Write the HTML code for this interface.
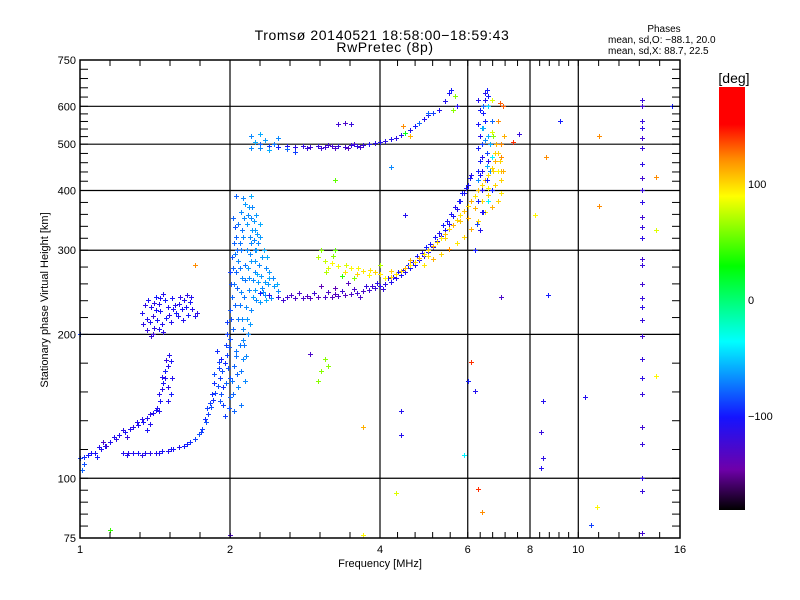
<!DOCTYPE html>
<html><head><meta charset="utf-8">
<style>
html,body{margin:0;padding:0;background:#fff;}
svg{display:block;font-family:"Liberation Sans",sans-serif;}
</style></head>
<body>
<svg id="chart" width="800" height="600" viewBox="0 0 800 600" xmlns="http://www.w3.org/2000/svg">
<rect x="0" y="0" width="800" height="600" fill="#fff"/>
<text x="382" y="40" font-size="14" text-anchor="middle" letter-spacing="0.6">Tromsø 20140521  18:58:00−18:59:43</text>
<text x="385" y="52" font-size="14" text-anchor="middle" letter-spacing="0.6">RwPretec (8p)</text>
<text x="664" y="32" font-size="10" text-anchor="middle">Phases</text>
<text x="608" y="43" font-size="10">mean, sd,O: −88.1, 20.0</text>
<text x="608" y="54" font-size="10">mean, sd,X:  88.7, 22.5</text>
<g id="grid"></g>
<g id="marks"></g>
<g id="axes"></g>
<text x="380" y="567" font-size="11" text-anchor="middle">Frequency [MHz]</text>
<text x="0" y="0" font-size="11" text-anchor="middle" transform="translate(48,300) rotate(-90)">Stationary phase Virtual Height [km]</text>
<defs><linearGradient id="cbg" x1="0" y1="0" x2="0" y2="1"></linearGradient></defs>
<rect x="719" y="87" width="26" height="423" fill="url(#cbg)"/>
<text x="734" y="83" font-size="14" text-anchor="middle">[deg]</text>
<text x="748" y="188" font-size="11">100</text>
<text x="748" y="304" font-size="11">0</text>
<text x="748" y="420" font-size="11">−100</text>
</svg>
<script>
// ---- data: [frequency MHz, virtual height km, phase deg] ----
const lowTraceA=[[1.0,110,-90],[1.02,111,-95],[1.04,112,-100],[1.07,113,-105],[1.1,115,-110],[1.12,117,-105],[1.15,119,-110],[1.18,121,-115],[1.2,123,-110],[1.23,125,-105],[1.26,127,-110],[1.28,128,-115],[1.31,129,-110],[1.34,131,-105],[1.36,134,-110],[1.38,136,-115],[1.40,137,-110],[1.42,139,-105],[1.44,138,-110],[1.01,104,-80],[1.02,107,-85],[1.11,119,-130],[1.13,117,-125],[1.05,113,-105],[1.09,116,-110],[1.17,122,-110],[1.22,126,-115],[1.3,131,-110],[1.33,133,-115],[1.24,122,-120],[1.08,111,-100]];
const lowTraceB=[[1.22,113,-110],[1.25,113,-115],[1.28,113,-110],[1.31,113,-105],[1.35,113,-110],[1.38,113,-115],[1.42,113,-110],[1.46,114,-105],[1.5,114,-110],[1.54,115,-105],[1.58,116,-110],[1.62,117,-100],[1.66,119,-95],[1.7,121,-90],[1.73,124,-85],[1.76,127,-90],[1.79,131,-85],[1.81,136,-90],[1.83,141,-85],[1.85,146,-95],[1.87,151,-90],[1.89,156,-85],[1.91,162,-90],[1.93,168,-85],[1.95,174,-95],[1.97,181,-90],[1.99,188,-85],[1.24,112,-110],[1.33,112,-115],[1.44,113,-110],[1.52,115,-105],[1.64,118,-100],[1.75,125,-90],[1.78,133,-95],[1.82,144,-90],[1.86,158,-95],[1.9,170,-90],[1.94,155,-95],[1.92,178,-100]];
const branchC=[[1.43,140,-110],[1.45,145,-105],[1.44,150,-110],[1.46,154,-115],[1.47,158,-105],[1.46,163,-110],[1.48,168,-100],[1.5,172,-110],[1.49,177,-120],[1.51,181,-110],[1.52,176,-105],[1.53,162,-110],[1.52,150,-100],[1.5,145,-110],[1.38,130,-110],[1.36,126,-105],[1.48,162,-110],[1.5,155,-115]];
const cloudD=[[1.33,222,-110],[1.35,230,-115],[1.37,236,-105],[1.39,228,-110],[1.4,218,-120],[1.42,240,-100],[1.44,232,-110],[1.45,224,-105],[1.47,243,-110],[1.48,236,-100],[1.5,228,-110],[1.51,220,-115],[1.53,238,-105],[1.55,230,-110],[1.56,222,-100],[1.58,232,-110],[1.6,226,-105],[1.62,236,-110],[1.64,242,-115],[1.66,234,-105],[1.68,226,-110],[1.34,210,-115],[1.36,204,-120],[1.38,212,-110],[1.41,206,-115],[1.43,214,-105],[1.46,210,-110],[1.49,216,-100],[1.52,212,-110],[1.57,218,-105],[1.61,214,-110],[1.65,220,-100],[1.7,218,-110],[1.72,222,-115],[1.4,200,-125],[1.44,205,-110],[1.39,198,-120],[1.47,202,-115],[1.36,215,-110],[1.42,225,-105],[1.54,226,-110],[1.59,240,-115],[1.63,228,-105],[1.67,240,-110],[1.45,238,-110],[1.41,233,-115]];
const cloudE=[[1.8,140,-90],[1.84,150,-95],[1.86,165,-85],[1.9,175,-90],[1.88,185,-95],[1.92,150,-85],[1.94,142,-90],[1.96,158,-80],[1.98,170,-85],[2.0,148,-80],[2.02,160,-75],[2.04,172,-80],[2.06,185,-75],[2.08,155,-70],[2.1,168,-75],[2.12,178,-70],[2.0,196,-85],[2.03,205,-80],[1.97,212,-90],[2.0,225,-85],[2.02,240,-80],[2.04,255,-75],[2.06,270,-80],[2.08,285,-70],[2.1,300,-75],[2.12,320,-70],[2.08,340,-75],[2.1,360,-70],[2.14,375,-65],[2.06,390,-80],[2.12,385,-70],[2.18,370,-65],[2.2,350,-70],[2.24,330,-65],[2.28,310,-70],[2.32,290,-65],[2.36,275,-70],[2.4,262,-60],[2.45,252,-65],[2.5,246,-70],[2.16,300,-70],[2.2,285,-65],[2.24,270,-70],[2.28,258,-65],[2.32,250,-70],[2.14,260,-75],[2.18,248,-70],[2.22,240,-65],[2.26,236,-70],[2.3,234,-65],[2.36,236,-60],[2.42,238,-70],[2.05,230,-80],[2.08,215,-75],[2.12,205,-70],[2.16,215,-65],[2.2,225,-70],[2.06,320,-80],[2.16,340,-65],[2.2,310,-70],[2.26,300,-60],[2.3,320,-65],[2.34,300,-60],[2.14,280,-75],[2.1,245,-70],[2.02,290,-85],[2.04,310,-80],[2.0,270,-90],[2.26,355,-65],[2.3,340,-60],[2.22,260,-70],[2.38,255,-65],[2.12,195,-70],[2.06,180,-75],[2.14,160,-70],[2.0,162,-85],[1.96,190,-90],[2.1,142,-75],[2.04,138,-80]];
const cloudE2=[[2.03,350,-80],[2.05,335,-85],[2.07,300,-80],[2.09,275,-75],[2.11,262,-70],[2.13,240,-75],[2.15,228,-70],[2.17,275,-65],[2.19,295,-70],[2.21,330,-65],[2.23,315,-70],[2.25,285,-65],[2.27,268,-60],[2.29,280,-70],[2.31,265,-65],[2.33,245,-70],[2.35,258,-65],[2.37,290,-60],[2.39,270,-65],[2.44,262,-70],[2.48,255,-60],[2.01,255,-85],[2.03,275,-80],[2.05,295,-75],[2.07,250,-80],[2.09,230,-75],[2.11,215,-70],[2.13,190,-75],[2.15,180,-70],[2.17,200,-70],[2.19,210,-65],[2.09,190,-75],[2.07,165,-80],[2.03,150,-80],[1.99,140,-85],[1.95,135,-90],[1.91,145,-85],[1.97,200,-90],[2.01,215,-85],[2.13,350,-70],[2.17,355,-70],[2.21,370,-70],[2.11,330,-75],[2.09,310,-75],[2.19,320,-70],[2.23,345,-65],[2.27,325,-65],[2.25,248,-65],[2.35,242,-70],[2.18,262,-70],[2.24,300,-70]];
const traceF=[[2.3,244,-100],[2.4,242,-110],[2.5,240,-120],[2.6,239,-125],[2.7,238,-130],[2.8,238,-130],[2.9,238,-135],[3.0,239,-135],[3.1,239,-130],[3.2,240,-135],[3.3,241,-130],[3.4,242,-135],[3.5,243,-130],[3.6,244,-125],[3.7,246,-130],[3.8,248,-125],[3.9,250,-120],[4.0,252,-115],[4.1,255,-115],[4.2,258,-110],[4.3,262,-110],[4.4,266,-105],[4.5,270,-110],[4.6,275,-105],[4.7,280,-110],[4.8,286,-105],[4.9,292,-110],[5.0,298,-105],[5.1,305,-110],[5.2,313,-105],[5.3,321,-110],[5.4,331,-105],[5.5,341,-110],[5.6,353,-105],[5.7,366,-110],[5.8,380,-105],[5.9,395,-110],[6.0,410,-105],[6.1,430,-110],[2.75,244,-130],[2.95,244,-125],[3.15,245,-130],[3.35,247,-125],[3.55,249,-130],[3.75,252,-120],[3.95,256,-115],[4.15,262,-110],[4.35,270,-105],[4.55,280,-100],[4.75,292,-105],[4.95,305,-100],[5.15,320,-105],[5.35,338,-100],[5.55,358,-105],[5.75,380,-100],[5.95,405,-105],[3.05,252,-140],[3.45,256,-135],[3.25,250,-140],[2.55,236,-125],[2.65,242,-130],[2.85,241,-135],[3.25,243,-135],[3.65,240,-130],[3.85,252,-125],[4.05,249,-120],[4.25,264,-110],[4.45,273,-110],[4.65,283,-105],[4.85,296,-110],[5.05,309,-105],[5.25,326,-110],[5.45,345,-105],[5.65,370,-110],[5.85,395,-100],[6.05,425,-105]];
const traceX=[[3.0,290,70],[3.05,300,60],[3.1,285,75],[3.15,275,80],[3.2,282,90],[3.3,278,85],[3.4,270,95],[3.5,275,90],[3.6,268,100],[3.7,272,95],[3.8,266,90],[3.9,270,100],[4.0,268,95],[4.1,262,90],[4.2,264,100],[4.3,268,95],[4.4,271,100],[4.5,275,110],[4.6,279,95],[4.7,284,100],[4.8,289,110],[4.9,294,95],[5.0,300,100],[5.1,306,110],[5.2,312,100],[5.3,318,95],[5.4,325,105],[5.5,332,100],[5.6,339,110],[5.7,347,100],[5.8,355,95],[5.9,363,105],[6.0,372,100],[6.1,380,110],[6.2,390,95],[6.3,400,105],[6.4,410,100],[6.5,420,110],[6.6,430,95],[6.7,445,100],[6.8,460,110],[6.9,480,100],[7.0,395,95],[6.9,380,100],[6.7,370,110],[6.5,360,95],[6.3,345,100],[6.1,333,110],[5.9,320,100],[5.7,310,95],[5.5,302,120],[5.3,295,100],[5.1,287,110],[4.9,280,95],[3.35,265,40],[3.55,262,60],[3.25,300,50],[4.0,280,70],[3.12,270,70],[3.22,292,60],[3.42,280,80],[3.62,276,90],[3.82,273,95],[4.2,272,100],[4.6,286,110],[5.0,292,95],[5.4,318,100],[5.8,345,105],[6.2,368,110],[6.6,392,100],[6.8,410,95],[7.0,440,110],[6.95,460,100],[6.6,405,90],[6.4,380,100],[6.0,350,110]];
const columnG=[[6.2,300,-100],[6.25,340,-90],[6.3,380,-100],[6.3,420,-70],[6.35,460,-100],[6.4,500,-90],[6.4,540,-60],[6.45,580,-100],[6.5,620,-110],[6.55,650,-100],[6.6,600,-50],[6.5,560,-100],[6.6,520,-60],[6.55,480,-90],[6.65,440,-70],[6.7,400,-100],[6.4,440,-110],[6.45,360,-100],[6.35,330,-110],[6.6,380,-40],[6.7,560,-80],[6.75,520,60],[6.8,480,100],[6.9,440,90],[7.0,500,120],[7.1,520,110],[7.05,600,130],[7.0,420,100],[6.5,640,-110],[6.6,630,-100],[6.7,620,80],[6.45,600,-80],[6.55,450,-60],[6.7,470,-40],[6.3,620,-110],[6.35,590,-100],[6.3,550,-105],[6.35,520,-110],[6.3,490,-100],[6.4,470,-110],[6.35,430,-105],[6.4,400,-110],[6.45,540,-60],[6.5,510,-70],[6.55,420,-100],[6.6,460,-110],[6.65,500,-60],[6.7,530,80],[6.75,440,100],[6.8,410,100],[6.85,500,110],[6.9,560,120],[6.95,610,130],[7.0,470,120],[7.05,440,110],[6.4,360,-110],[6.3,440,-100]];
const upperH=[[2.3,500,-80],[2.4,496,-90],[2.5,494,-100],[2.6,495,-110],[2.7,494,-115],[2.8,496,-120],[2.9,494,-125],[3.0,496,-120],[3.1,494,-125],[3.2,495,-130],[3.3,496,-120],[3.4,494,-125],[3.5,497,-120],[3.6,495,-115],[3.7,498,-120],[3.8,500,-110],[3.9,502,-115],[4.0,505,-110],[4.1,508,-115],[4.2,512,-110],[4.3,516,-115],[4.4,522,-110],[4.5,528,20],[4.6,535,-110],[4.7,545,-100],[4.8,555,-80],[4.9,565,-110],[5.0,575,-105],[5.1,580,-90],[5.25,590,-110],[5.4,615,-110],[5.5,640,-105],[5.55,650,-100],[5.65,630,60],[5.7,600,-110],[5.6,590,60],[3.3,550,-125],[3.4,555,-130],[3.5,552,-120],[2.2,520,-70],[2.25,505,-60],[2.3,490,-70],[2.35,510,-65],[2.4,485,-60],[2.45,500,-75],[2.2,490,-70],[2.3,525,-60],[2.5,515,-70],[2.6,488,-80],[2.7,482,-90],[4.6,520,110],[4.45,545,120],[3.25,492,-130],[3.45,491,-135],[3.65,493,-130],[3.15,497,-125],[3.55,500,-125],[2.85,490,-120],[3.05,492,-125]];
const column13=[[13.4,620,-120],[13.4,600,-125],[13.4,560,-120],[13.4,540,-115],[13.4,515,-125],[13.4,490,-120],[13.4,455,-115],[13.4,425,-125],[13.4,400,-120],[13.4,378,-115],[13.4,352,-125],[13.4,335,-120],[13.4,318,-115],[13.4,288,-125],[13.4,280,-120],[13.4,255,-125],[13.4,238,-120],[13.4,228,-115],[13.4,214,-120],[13.4,198,-125],[13.4,178,-120],[13.4,162,-115],[13.4,150,-120],[13.4,128,-125],[13.4,118,-120],[13.4,100,-115],[13.4,94,-120],[13.4,77,-125]];
const scattered=[[1.0,200,-90],[1.15,78,40],[1.7,280,120],[2.0,76,-130],[2.2,390,-60],[2.9,182,-130],[3.0,160,60],[3.05,168,60],[3.1,178,60],[3.15,172,60],[3.25,420,50],[3.7,128,110],[3.7,76,90],[4.2,448,-70],[4.3,93,80],[4.4,138,-110],[4.4,123,-110],[4.5,355,-110],[5.9,112,-40],[6.1,175,140],[6.0,160,-100],[6.2,152,-110],[6.3,95,140],[6.4,85,120],[7.0,240,-130],[7.4,505,140],[7.6,525,-120],[8.4,105,-110],[8.5,145,-110],[8.4,125,-120],[8.5,110,-115],[8.7,242,-100],[8.6,470,120],[9.2,560,-100],[10.3,148,-110],[10.6,80,-90],[10.9,87,90],[11.0,520,120],[11.0,372,120],[14.3,330,80],[14.3,164,90],[14.3,426,120],[15.4,600,-100],[8.2,355,90],[5.0,580,-80]];
const traces=[lowTraceA,lowTraceB,branchC,cloudD,cloudE,cloudE2,traceF,traceX,columnG,upperH,column13,scattered];
const traceNames=['low-trace-a','low-trace-b','branch-c','cloud-d','cloud-e','cloud-e2','o-trace-f','x-trace','column-g','upper-trace-h','column-13mhz','scattered-points'];
const xMajorTicks=[1,2,4,6,8,10,16];
const xGrid=[2,4,6,8,10];
const yMajorTicks=[75,100,200,300,400,500,600,750];
const yGrid=[100,200,300,400,500,600];
const cStops=[[182,255,0,0],[150,255,0,0],[120,255,140,0],[88,255,255,0],[28,0,255,0],[-37,0,255,255],[-102,20,20,255],[-147,110,0,170],[-182,0,0,0]];

const X0=80,X1=680,Y0=60,Y1=538;
const fMin=1,fMax=16,hMin=75,hMax=750;
function xs(f){return X0+(X1-X0)*Math.log(f/fMin)/Math.log(fMax/fMin);}
function ys(h){return Y1-(Y1-Y0)*Math.log(h/hMin)/Math.log(hMax/hMin);}
function col(p){
  if(p>=cStops[0][0])return `rgb(${cStops[0][1]},${cStops[0][2]},${cStops[0][3]})`;
  for(let i=0;i<cStops.length-1;i++){const a=cStops[i],b=cStops[i+1];
    if(p<=a[0]&&p>=b[0]){const t=(a[0]-p)/(a[0]-b[0]);
      return `rgb(${Math.round(a[1]+(b[1]-a[1])*t)},${Math.round(a[2]+(b[2]-a[2])*t)},${Math.round(a[3]+(b[3]-a[3])*t)})`;}}
  return 'rgb(0,0,0)';
}
const NS='http://www.w3.org/2000/svg';
function mk(tag,attrs,parent){const e=document.createElementNS(NS,tag);for(const k in attrs)e.setAttribute(k,attrs[k]);parent.appendChild(e);return e;}

const grad=document.getElementById('cbg');
cStops.forEach(s=>{mk('stop',{offset:((182-s[0])/364*100)+'%','stop-color':`rgb(${s[1]},${s[2]},${s[3]})`},grad);});

const g=document.getElementById('grid');
xGrid.forEach(f=>{const l=mk('line',{x1:xs(f),x2:xs(f),y1:Y0,y2:Y1,stroke:'#000','stroke-width':1.2},g);

});
yGrid.forEach(h=>{const l=mk('line',{x1:X0,x2:X1,y1:ys(h),y2:ys(h),stroke:'#000','stroke-width':1.2},g);

});

const m=document.getElementById('marks');
traces.forEach((tr,ti)=>{
  const grp=mk('g',{},m);
  
  
  tr.forEach(d=>{
    const x=Math.round(xs(d[0])),y=Math.round(ys(d[1]));
    const p=mk('path',{d:`M${x-2} ${y}h5v1h-5zM${x} ${y-2}h1v5h-1z`,fill:col(d[2]),'shape-rendering':'crispEdges'},grp);
    
    
  });
});

const a=document.getElementById('axes');
const fr=mk('rect',{x:X0,y:Y0,width:X1-X0,height:Y1-Y0,fill:'none',stroke:'#000','stroke-width':1.5},a);


function subdiv(arr){const out=[];for(let i=0;i<arr.length-1;i++){for(let k=0;k<5;k++){out.push(arr[i]*Math.pow(arr[i+1]/arr[i],k/5));}}out.push(arr[arr.length-1]);return out;}
subdiv(xMajorTicks).forEach(f=>{const x=xs(f);
  const t1=mk('line',{x1:x,x2:x,y1:Y1,y2:Y1-6,stroke:'#000'},a);
  
  
  const t2=mk('line',{x1:x,x2:x,y1:Y0,y2:Y0+6,stroke:'#000'},a);
  
  });
subdiv(yMajorTicks).forEach(h=>{const y=ys(h);
  const t1=mk('line',{x1:X0,x2:X0+8,y1:y,y2:y,stroke:'#000'},a);
  
  
  const t2=mk('line',{x1:X1,x2:X1-8,y1:y,y2:y,stroke:'#000'},a);
  
  });
xMajorTicks.forEach(f=>{const t=mk('text',{x:xs(f),y:Y1+15,'font-size':11,'text-anchor':'middle'},a);t.textContent=f;
  
  });
yMajorTicks.forEach(h=>{const t=mk('text',{x:X0-4,y:ys(h)+4,'font-size':11,'text-anchor':'end'},a);t.textContent=h;
  
  });
</script>
</body></html>
